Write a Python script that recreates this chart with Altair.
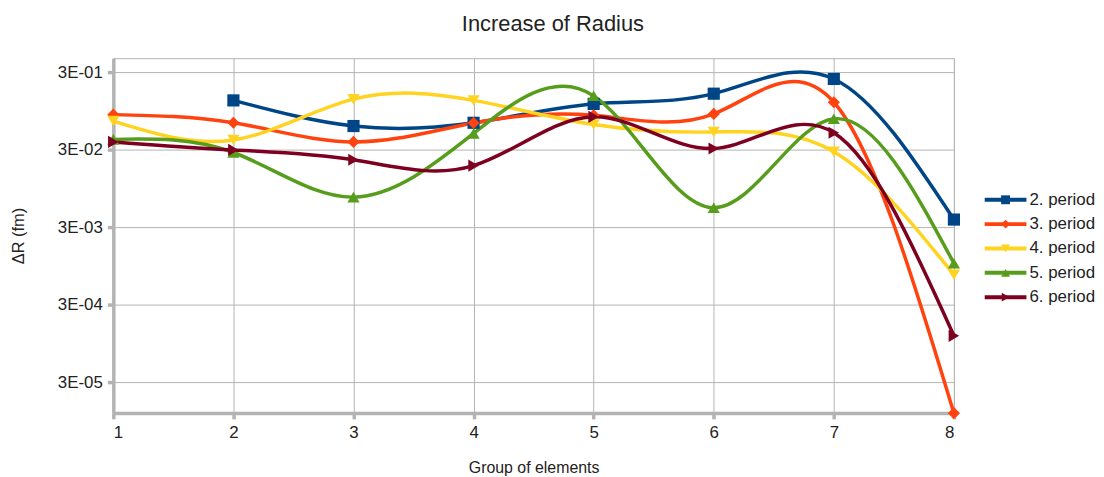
import altair as alt
import pandas as pd

groups = [1, 2, 3, 4, 5, 6, 7, 8]
series_names = ["2. period", "3. period", "4. period", "5. period", "6. period"]
p2 = [None, 0.131, 0.0611, 0.0673, 0.118, 0.160, 0.248, 0.00378]
p3 = [0.0858, 0.0673, 0.0381, 0.067, 0.0843, 0.0877, 0.124, 1.19e-5]
p4 = [0.0708, 0.0404, 0.136, 0.131, 0.0640, 0.0511, 0.0284, 0.000733]
p5 = [0.0411, 0.0278, 0.00737, 0.049, 0.150, 0.00538, 0.0757, 0.00103]
p6 = [0.0381, 0.030, 0.0224, 0.0188, 0.0804, 0.0313, 0.050, 0.000119]
colors = ["#004586", "#ff420e", "#ffd320", "#579d1c", "#7e0021"]
shapes = ["square", "diamond", "triangle-down", "triangle-up", "triangle-right"]
y_ticks = [3e-5, 3e-4, 3e-3, 3e-2, 3e-1]
y_tick_labels = ["3E-05", "3E-04", "3E-03", "3E-02", "3E-01"]

rows = []
for name, vals in zip(series_names, [p2, p3, p4, p5, p6]):
    for g, v in zip(groups, vals):
        if v is not None:
            rows.append({"series": name, "group": g, "value": v})
df = pd.DataFrame(rows)
legend_df = pd.DataFrame({"series": series_names})

# label expression mapping tick values to their labels
expr = "''"
for v, lab in zip(y_ticks, y_tick_labels):
    expr = f"abs(datum.value - {v}) < {v}*0.01 ? '{lab}' : ({expr})"

FONT = "Liberation Sans"
color_scale = alt.Scale(domain=series_names, range=colors)
shape_scale = alt.Scale(domain=series_names, range=shapes)

x_enc = alt.X("group:Q", scale=alt.Scale(domain=[1, 8], nice=False, zero=False),
              axis=alt.Axis(values=groups, format="d", title="Group of elements",
                            labelPadding=6, titlePadding=19, titleFontSize=16))
y_enc = alt.Y("value:Q", scale=alt.Scale(type="log", domain=[1.2e-5, 0.46], nice=False),
              axis=alt.Axis(values=y_ticks, labelExpr=expr, title="ΔR (fm)",
                            labelPadding=5, titlePadding=31, titleFontSize=16.5))

base = alt.Chart(df)
lines = base.mark_line(interpolate="natural", strokeWidth=3.5).encode(
    x=x_enc, y=y_enc,
    color=alt.Color("series:N", scale=color_scale, legend=None),
)
points = base.mark_point(filled=True, size=150, opacity=1).encode(
    x=x_enc, y=y_enc,
    color=alt.Color("series:N", scale=color_scale, legend=None),
    shape=alt.Shape("series:N", scale=shape_scale, legend=None),
)
main = alt.layer(lines, points).properties(width=846, height=357)

ly = alt.Y("series:N", scale=alt.Scale(type="point", domain=series_names, range=[142.5, 240.5], padding=0),
           axis=None)
lbase = alt.Chart(legend_df)
lrule = lbase.mark_rule(strokeWidth=4).encode(
    x=alt.value(0), x2=alt.value(42), y=ly,
    color=alt.Color("series:N", scale=color_scale, legend=None),
)
lpts = lbase.mark_point(filled=True, size=80, opacity=1).encode(
    x=alt.value(21), y=ly,
    color=alt.Color("series:N", scale=color_scale, legend=None),
    shape=alt.Shape("series:N", scale=shape_scale, legend=None),
)
ltext = lbase.mark_text(align="left", baseline="middle", fontSize=17, font=FONT, color="#222").encode(
    x=alt.value(45), y=ly, text="series:N",
)
legend = alt.layer(lrule, lpts, ltext).properties(
    width=80, height=357, view=alt.ViewBackground(stroke="transparent"))

chart = alt.hconcat(main, legend, spacing=20).properties(
    title=alt.TitleParams("Increase of Radius", anchor="middle", fontSize=22,
                          font=FONT, fontWeight="normal", color="#222", offset=22),
    padding={"left": 2, "top": 3, "right": 0, "bottom": 0},
).configure_view(stroke="#b3b3b3", strokeWidth=1).configure_axis(
    domainColor="#b3b3b3", domainWidth=3.5, tickColor="#b3b3b3", tickWidth=3.5, tickSize=6,
    gridColor="#b3b3b3", gridWidth=1, labelFont=FONT, labelFontSize=17, labelColor="#222",
    titleFont=FONT, titleFontWeight="normal", titleColor="#222",
).configure_concat(spacing=20)

chart.save("out.html", embed_options={"renderer": "svg", "actions": False})
